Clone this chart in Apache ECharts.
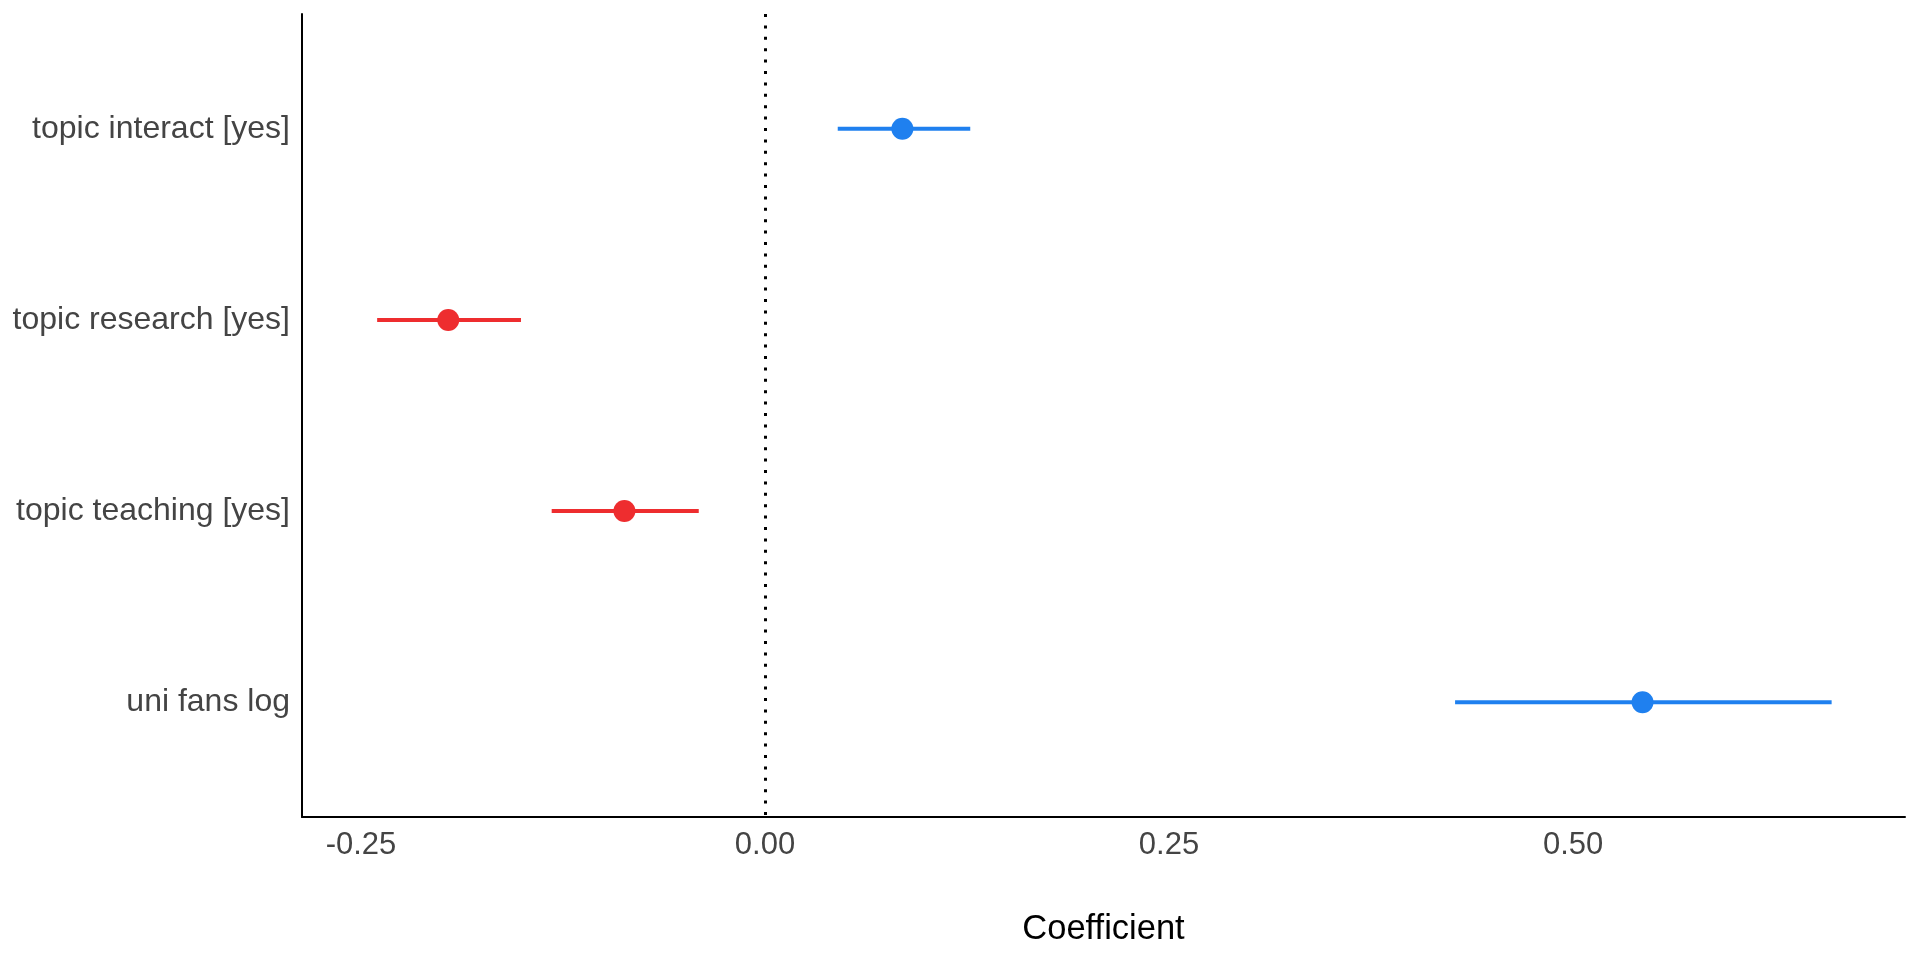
<!DOCTYPE html>
<html>
<head>
<meta charset="utf-8">
<script src="https://cdn.jsdelivr.net/npm/echarts@6/dist/echarts.min.js"></script>
<style>
html,body{margin:0;padding:0;background:#fff;}
#chart{width:1920px;height:960px;}
</style>
</head>
<body>
<div id="chart"></div>
<script>
const terms = ['topic interact [yes]', 'topic research [yes]', 'topic teaching [yes]', 'uni fans log'];
const estimates = [0.085, -0.196, -0.087, 0.543];
const ciLow = [0.045, -0.240, -0.132, 0.427];
const ciHigh = [0.127, -0.151, -0.041, 0.660];
const xTicks = [-0.25, 0.00, 0.25, 0.50];

const BLUE = '#1f80ef';
const RED = '#ee2d2f';

const rows = terms.map((t, i) => ({
  pos: i + 1,
  est: estimates[i],
  lo: ciLow[i],
  hi: ciHigh[i],
  color: estimates[i] >= 0 ? BLUE : RED
}));

const FONT = 'Liberation Sans, Arial, sans-serif';

const chart = echarts.init(document.getElementById('chart'), null, {renderer: 'canvas'});
chart.setOption({
  animation: false,
  backgroundColor: '#ffffff',
  grid: {left: 302, right: 15, top: 14, bottom: 143, containLabel: false},
  xAxis: {
    type: 'value',
    min: -0.2865,
    max: 0.7054,
    name: 'Coefficient',
    nameLocation: 'middle',
    nameGap: 95,
    nameTextStyle: {color: '#000', fontSize: 34.5, fontFamily: FONT},
    axisLine: {show: true, onZero: false, lineStyle: {color: '#000', width: 2}},
    axisTick: {show: false},
    splitLine: {show: false},
    axisLabel: {
      customValues: xTicks,
      formatter: v => v.toFixed(2),
      color: '#444',
      fontSize: 31,
      margin: 13,
      fontFamily: FONT
    }
  },
  yAxis: {
    type: 'value',
    inverse: true,
    min: 0.4,
    max: 4.6,
    axisLine: {show: true, onZero: false, lineStyle: {color: '#000', width: 2}},
    axisTick: {show: false},
    splitLine: {show: false},
    axisLabel: {
      customValues: terms.map((t, i) => i + 1),
      formatter: v => terms[Math.round(v) - 1] || '',
      color: '#444',
      fontSize: 32,
      margin: 12,
      fontFamily: FONT
    }
  },
  series: [
    {
      type: 'custom',
      data: rows.map(r => ({value: [r.lo, r.hi, r.pos], itemStyle: {color: r.color}})),
      encode: {x: [0, 1], y: 2},
      renderItem: function (params, api) {
        const p1 = api.coord([api.value(0), api.value(2)]);
        const p2 = api.coord([api.value(1), api.value(2)]);
        return {
          type: 'line',
          shape: {x1: p1[0], y1: p1[1], x2: p2[0], y2: p2[1]},
          style: {stroke: api.visual('color'), lineWidth: 4}
        };
      },
      markLine: {
        silent: true,
        symbol: ['none', 'none'],
        label: {show: false},
        lineStyle: {color: '#000', width: 3, type: [3, 8.4], opacity: 1},
        data: [{xAxis: 0}]
      },
      z: 2
    },
    {
      type: 'scatter',
      symbol: 'circle',
      symbolSize: 22,
      data: rows.map(r => ({value: [r.est, r.pos], itemStyle: {color: r.color, opacity: 1}})),
      itemStyle: {opacity: 1},
      z: 3
    }
  ]
});
</script>
</body>
</html>
